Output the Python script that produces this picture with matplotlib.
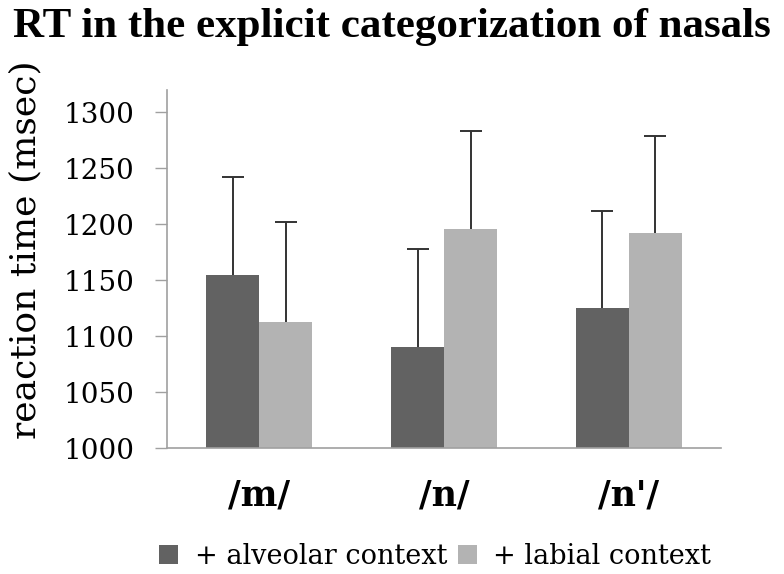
import numpy as np
import matplotlib
matplotlib.use("Agg")
import matplotlib.pyplot as plt

# Daten
categories = ["/m/", "/n/", "/n'/"]
alveolar = [1155, 1090, 1125]
labial = [1113, 1196, 1192]
alveolar_err = [87, 88, 87]
labial_err = [89, 87, 87]

plt.rcParams['font.family'] = ['DejaVu Serif']

fig = plt.figure(figsize=(7.84, 5.74), dpi=100)
ax = fig.add_axes([0.213, 0.2195, 0.707, 0.6235])

x = np.arange(len(categories))
w = 0.287
ax.bar(x - w / 2, alveolar, w, color='#626262', label='+ alveolar context')
ax.bar(x + w / 2, labial, w, color='#b3b3b3', label='+ labial context')

# nur obere Fehlerbalken
for xs, ys, es in [(x - w / 2, alveolar, alveolar_err), (x + w / 2, labial, labial_err)]:
    line, caps, bars = ax.errorbar(xs, ys, yerr=[np.zeros(3), es], fmt='none',
                                   ecolor='#333333', elinewidth=1.4, capsize=8, capthick=1.4)
    caps[0].set_visible(False)

ax.set_xlim(-0.5, 2.5)
ax.set_ylim(1000, 1320)
ax.set_yticks(range(1000, 1301, 50))
ax.set_xticks(x)
ax.set_xticklabels(categories, fontsize=25, fontweight='bold')
ax.tick_params(axis='x', length=0, pad=22)
ax.tick_params(axis='y', length=8.5, width=1, color='#a0a0a0', labelsize=20, pad=15)

for s in ['top', 'right']:
    ax.spines[s].set_visible(False)
for s in ['left', 'bottom']:
    ax.spines[s].set_color('#a0a0a0')
    ax.spines[s].set_linewidth(1.2)

ax.set_ylabel('reaction time (msec)', fontsize=26)
ax.yaxis.set_label_coords(-0.225, 0.555)

fig.text(0.5, 0.936, 'RT in the explicit categorization of nasals',
         ha='center', va='baseline', fontsize=31, fontweight='bold',
         family=['Liberation Serif'])

fig.legend(loc='center', bbox_to_anchor=(0.555, 0.031), ncol=2, frameon=False,
           fontsize=19.5, handlelength=0.7, handleheight=0.7, handletextpad=0.6,
           columnspacing=0.4)

fig.savefig('out.png', dpi=100)
